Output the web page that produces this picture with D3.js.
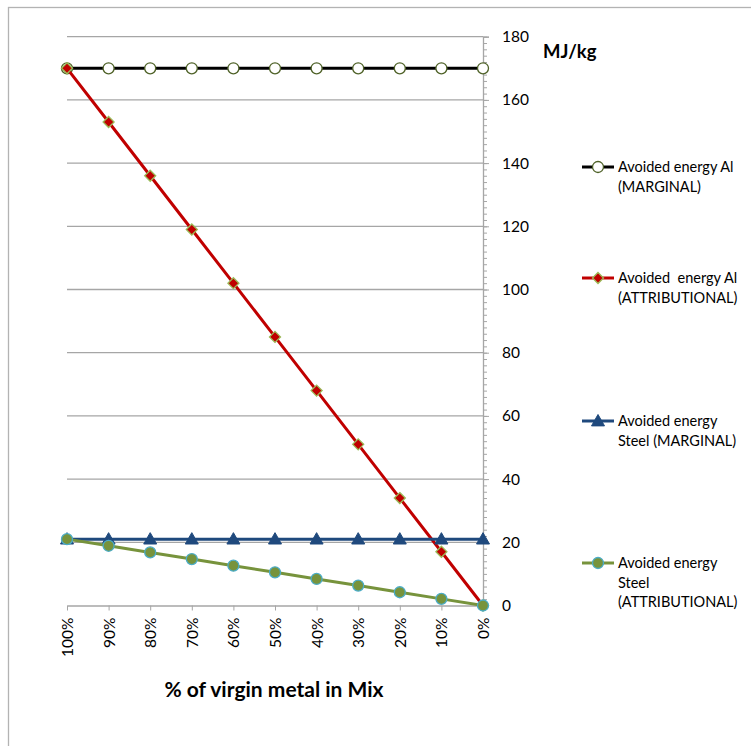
<!DOCTYPE html>
<html>
<head>
<meta charset="utf-8">
<script src="https://cdn.jsdelivr.net/npm/d3@7"></script>
<style>
  html, body { margin: 0; padding: 0; background: #fff; }
  svg { display: block; font-family: Lato, "Open Sans", sans-serif; }
</style>
</head>
<body>
<svg id="chart" width="751" height="746"></svg>
<script>
// Share of virgin metal in the mix (x axis categories)
const categories = ["100%", "90%", "80%", "70%", "60%", "50%", "40%", "30%", "20%", "10%", "0%"];

// Avoided energy, MJ/kg
const alMarginal      = [170, 170, 170, 170, 170, 170, 170, 170, 170, 170, 170];
const alAttributional = [170, 153, 136, 119, 102, 85, 68, 51, 34, 17, 0];
const stMarginal      = [21, 21, 21, 21, 21, 21, 21, 21, 21, 21, 21];
const stAttributional = [21, 18.9, 16.8, 14.7, 12.6, 10.5, 8.4, 6.3, 4.2, 2.1, 0];

const yTicks = [0, 20, 40, 60, 80, 100, 120, 140, 160, 180];

const seriesNames = [
  ["Avoided energy Al", "(MARGINAL)"],
  ["Avoided  energy Al", "(ATTRIBUTIONAL)"],
  ["Avoided energy", "Steel (MARGINAL)"],
  ["Avoided energy", "Steel", "(ATTRIBUTIONAL)"]
];

const series = [
  { values: alMarginal,      line: "#000000", marker: "circle",   fill: "#ffffff", stroke: "#4f6228", r: 5.5 },
  { values: alAttributional, line: "#c00000", marker: "diamond",  fill: "#c00000", stroke: "#9bbb59", r: 5.5 },
  { values: stMarginal,      line: "#1f497d", marker: "triangle", fill: "#1f497d", stroke: "#1f497d", r: 6.5 },
  { values: stAttributional, line: "#77933c", marker: "circle",   fill: "#77933c", stroke: "#4bacc6", r: 5.5 }
];

const svg = d3.select("#chart");

// outer chart frame
svg.append("rect")
  .attr("x", 8.5).attr("y", 7.5)
  .attr("width", 800).attr("height", 800)
  .attr("fill", "none").attr("stroke", "#b3b3b3").attr("stroke-width", 1.3);

const plot = { left: 67, right: 483, top: 36.7, bottom: 605.5 };

const x = d3.scalePoint().domain(categories).range([plot.left, plot.right]);
const y = d3.scaleLinear().domain([0, 180]).range([plot.bottom, plot.top]);

// horizontal gridlines
svg.append("g")
  .selectAll("line")
  .data(yTicks.filter(d => d > 0))
  .join("line")
  .attr("x1", plot.left).attr("x2", plot.right)
  .attr("y1", d => y(d)).attr("y2", d => y(d))
  .attr("stroke", "#a6a6a6").attr("stroke-width", 1.3);

// right value axis with minor ticks
const yAxisG = svg.append("g").attr("transform", `translate(${plot.right},0)`);
yAxisG.append("g")
  .call(d3.axisRight(y).tickValues(d3.range(0, 181, 2)).tickSize(4).tickFormat(""))
  .call(g => g.select(".domain").remove())
  .selectAll("line").attr("stroke", "#a6a6a6");
yAxisG.append("g")
  .call(d3.axisRight(y).tickValues(yTicks).tickSize(6).tickPadding(13))
  .call(g => g.select(".domain").attr("stroke", "#a6a6a6").attr("stroke-width", 1.3))
  .call(g => g.selectAll("line").attr("stroke", "#a6a6a6"))
  .call(g => g.selectAll("text")
    .attr("fill", "#000").style("font-size", "15.5px")
    .style("font-family", "Lato, sans-serif"));

// category axis along the bottom
const xAxisG = svg.append("g").attr("transform", `translate(0,${plot.bottom})`)
  .call(d3.axisBottom(x).tickSize(5).tickSizeOuter(0));
xAxisG.select(".domain").attr("stroke", "#a6a6a6").attr("stroke-width", 1.3);
xAxisG.selectAll("line").attr("stroke", "#a6a6a6");
xAxisG.selectAll("text")
  .attr("fill", "#000")
  .style("font-size", "15.5px")
  .style("font-family", "Lato, sans-serif")
  .attr("text-anchor", "end")
  .attr("transform", "rotate(-90)")
  .attr("x", -12).attr("y", 0).attr("dy", "0.35em");

// axis titles
svg.append("text")
  .attr("x", 543).attr("y", 58)
  .style("font-size", "18.5px").style("font-weight", "bold")
  .text("MJ/kg");
svg.append("text")
  .attr("x", 274).attr("y", 697)
  .attr("text-anchor", "middle")
  .style("font-size", "21px").style("font-weight", "bold")
  .text("% of virgin metal in Mix");

// marker drawing
function drawMarker(g, s, cx, cy) {
  if (s.marker === "circle") {
    g.append("circle").attr("cx", cx).attr("cy", cy).attr("r", s.r)
      .attr("fill", s.fill).attr("stroke", s.stroke).attr("stroke-width", 1.3);
  } else if (s.marker === "diamond") {
    const r = s.r;
    g.append("path")
      .attr("d", `M${cx},${cy - r}L${cx + r},${cy}L${cx},${cy + r}L${cx - r},${cy}Z`)
      .attr("fill", s.fill).attr("stroke", s.stroke).attr("stroke-width", 1.3);
  } else {
    const r = s.r;
    g.append("path")
      .attr("d", `M${cx},${cy - r}L${cx + r},${cy + r * 0.75}L${cx - r},${cy + r * 0.75}Z`)
      .attr("fill", s.fill).attr("stroke", s.stroke).attr("stroke-width", 1);
  }
}

const line = d3.line().x((d, i) => x(categories[i])).y(d => y(d));

series.forEach(s => {
  const g = svg.append("g");
  g.append("path")
    .datum(s.values)
    .attr("d", line)
    .attr("fill", "none")
    .attr("stroke", s.line)
    .attr("stroke-width", 3)
    .attr("stroke-linejoin", "round");
  s.values.forEach((v, i) => drawMarker(g, s, x(categories[i]), y(v)));
});

// legend
const legendY = [167, 278, 421, 563];
series.forEach((s, k) => {
  const g = svg.append("g");
  const ly = legendY[k];
  g.append("line")
    .attr("x1", 582).attr("x2", 614).attr("y1", ly).attr("y2", ly)
    .attr("stroke", s.line).attr("stroke-width", 3);
  drawMarker(g, s, 598, ly);
  const t = g.append("text")
    .attr("x", 618).attr("y", ly)
    .style("font-size", "14.5px")
    .attr("xml:space", "preserve");
  seriesNames[k].forEach((ln, j) => {
    t.append("tspan")
      .attr("x", 618)
      .attr("y", ly + j * 19.5)
      .attr("dy", "0.35em")
      .style("white-space", "pre")
      .text(ln);
  });
});
</script>
</body>
</html>
